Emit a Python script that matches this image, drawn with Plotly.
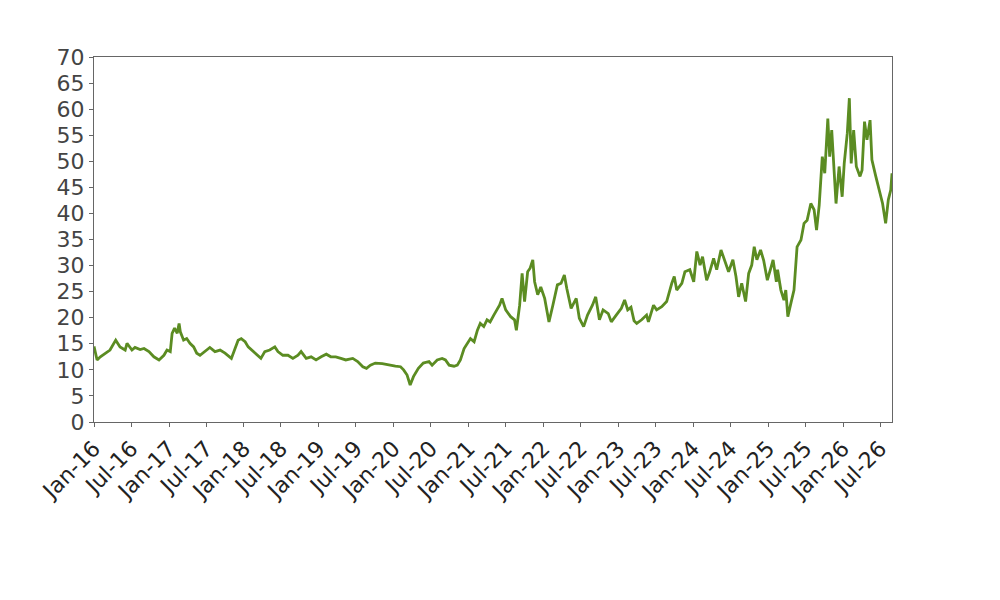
import plotly.graph_objects as go

dates = [
    "2016-01-01","2016-01-16","2016-02-01","2016-02-25","2016-03-19","2016-04-16","2016-05-07","2016-06-01",
    "2016-06-10","2016-07-04","2016-07-19","2016-08-13","2016-09-01","2016-09-25","2016-10-19","2016-11-13",
    "2016-12-07","2016-12-22","2017-01-07","2017-01-16","2017-01-28","2017-02-10","2017-02-19","2017-02-25",
    "2017-03-13","2017-03-28","2017-04-13","2017-05-01","2017-05-16","2017-06-01","2017-06-25","2017-07-19",
    "2017-08-13","2017-09-07","2017-10-01","2017-10-16","2017-11-01","2017-11-19","2017-12-04","2017-12-19",
    "2018-01-07","2018-01-22","2018-02-15","2018-03-10","2018-03-25","2018-04-13","2018-05-07","2018-06-01",
    "2018-06-16","2018-07-10","2018-08-04","2018-08-28","2018-09-22","2018-10-07","2018-11-01","2018-11-25",
    "2018-12-19","2019-01-13","2019-02-07","2019-03-01","2019-03-25","2019-04-19","2019-05-13","2019-06-16",
    "2019-07-10","2019-08-04","2019-08-22","2019-09-10","2019-10-04","2019-11-07","2019-12-07","2020-01-10",
    "2020-02-04","2020-02-19","2020-03-07","2020-03-22","2020-04-07","2020-05-01","2020-05-25","2020-06-22",
    "2020-07-07","2020-08-01","2020-08-25","2020-09-10","2020-09-28","2020-10-22","2020-11-07","2020-11-22",
    "2020-12-10","2020-12-25","2021-01-10","2021-01-28","2021-02-13","2021-02-27","2021-03-16","2021-04-01",
    "2021-04-16","2021-05-04","2021-05-19","2021-06-01","2021-06-13","2021-07-01","2021-07-25","2021-08-13",
    "2021-08-22","2021-09-07","2021-09-19","2021-10-01","2021-10-16","2021-10-28","2021-11-10","2021-11-19",
    "2021-12-04","2021-12-19","2022-01-07","2022-01-28","2022-02-16","2022-03-10","2022-03-28","2022-04-13",
    "2022-04-25","2022-05-16","2022-06-10","2022-06-25","2022-07-16","2022-08-04","2022-08-28","2022-09-13",
    "2022-10-01","2022-10-19","2022-11-13","2022-11-28","2022-12-22","2023-01-16","2023-02-01","2023-02-16",
    "2023-03-04","2023-03-19","2023-04-01","2023-04-25","2023-05-19","2023-05-28","2023-06-22","2023-07-07",
    "2023-08-01","2023-08-25","2023-09-19","2023-10-01","2023-10-13","2023-11-07","2023-11-22","2023-12-16",
    "2024-01-04","2024-01-19","2024-02-04","2024-02-16","2024-03-07","2024-03-22","2024-04-10","2024-04-25",
    "2024-05-16","2024-06-04","2024-06-22","2024-07-13","2024-07-28","2024-08-10","2024-08-25","2024-09-13",
    "2024-09-28","2024-10-13","2024-10-25","2024-11-07","2024-11-25","2024-12-10","2024-12-28","2025-01-16",
    "2025-01-25","2025-02-10","2025-02-16","2025-03-04","2025-03-19","2025-03-28","2025-04-07","2025-04-22",
    "2025-05-07","2025-05-22","2025-06-10","2025-06-25","2025-07-10","2025-07-28","2025-08-13","2025-08-25",
    "2025-09-07","2025-09-22","2025-10-04","2025-10-19","2025-10-28","2025-11-07","2025-11-19","2025-11-28",
    "2025-12-13","2025-12-28","2026-01-07","2026-01-22","2026-02-01","2026-02-10","2026-02-22","2026-03-07",
    "2026-03-25","2026-04-04","2026-04-16","2026-04-28","2026-05-13","2026-05-22","2026-06-10","2026-06-25",
    "2026-07-13","2026-07-28","2026-08-10","2026-08-22","2026-08-28",
]

values = [
    14.5, 11.9, 12.5, 13.2, 13.8, 15.7, 14.4, 13.8,
    15.1, 13.8, 14.3, 13.9, 14.1, 13.5, 12.5, 11.9,
    12.8, 13.8, 13.5, 17.0, 18.0, 17.0, 18.9, 17.3,
    15.7, 16.0, 15.1, 14.4, 13.2, 12.8, 13.5, 14.3,
    13.5, 13.8, 13.2, 12.8, 12.2, 14.1, 15.7, 16.0,
    15.4, 14.4, 13.5, 12.8, 12.2, 13.5, 13.8, 14.4,
    13.5, 12.8, 12.8, 12.2, 12.8, 13.5, 12.2, 12.5,
    11.9, 12.5, 13.0, 12.5, 12.5, 12.2, 11.9, 12.2,
    11.6, 10.6, 10.3, 10.9, 11.3, 11.2, 10.9, 10.7,
    10.6, 10.0, 9.0, 7.1, 8.7, 10.3, 11.3, 11.6,
    10.9, 11.9, 12.2, 11.9, 10.9, 10.7, 10.9, 11.9,
    14.1, 15.1, 16.0, 15.4, 17.6, 18.9, 18.3, 19.6,
    19.2, 20.5, 21.5, 22.4, 23.7, 21.5, 20.2, 19.6,
    17.6, 22.4, 28.5, 23.1, 28.8, 29.5, 31.1, 26.9,
    24.4, 25.9, 23.7, 19.2, 22.4, 26.3, 26.6, 28.2,
    25.6, 21.8, 23.7, 19.9, 18.3, 20.5, 22.4, 24.0,
    19.6, 21.5, 20.8, 19.2, 20.5, 21.8, 23.4, 21.5,
    22.0, 19.4, 18.9, 19.6, 20.5, 19.2, 22.4, 21.5,
    22.1, 23.1, 26.6, 27.9, 25.3, 26.6, 28.8, 29.2,
    26.9, 32.7, 30.1, 31.7, 27.2, 28.8, 31.4, 29.2,
    33.0, 30.7, 28.8, 31.1, 27.9, 24.0, 26.6, 23.1,
    28.5, 30.1, 33.6, 31.1, 33.0, 31.0, 27.2, 29.8,
    31.1, 26.9, 29.2, 25.3, 23.4, 25.3, 20.2, 22.8,
    25.3, 33.6, 34.9, 38.1, 38.7, 41.9, 40.7, 36.8,
    41.6, 50.9, 47.7, 58.2, 50.9, 56.0, 46.4, 41.9,
    49.0, 43.2, 49.6, 55.4, 62.1, 49.6, 56.0, 49.0,
    47.1, 48.3, 57.6, 54.1, 57.9, 50.3, 47.1, 44.5,
    41.9, 38.1, 42.6, 44.5, 47.7,
]

y_ticks = list(range(0, 75, 5))

fig = go.Figure()
fig.add_trace(go.Scatter(
    x=dates, y=values, mode="lines",
    line=dict(color="#5b8c22", width=2.8),
    showlegend=False,
))

y_font = dict(family="DejaVu Sans", size=22, color="#444444")
x_font = dict(family="DejaVu Sans", size=22, color="#222222")

fig.update_layout(
    width=1000, height=600,
    margin=dict(l=86, r=116, t=49, b=186),
    paper_bgcolor="white", plot_bgcolor="white",
    font=y_font,
    xaxis=dict(
        type="date",
        range=["2016-01-01", "2026-08-28"],
        tick0="2016-01-01", dtick="M6",
        tickformat="%b-%y", tickangle=-45,
        showgrid=False, zeroline=False,
        showline=True, linecolor="#666666", linewidth=1, mirror=True,
        ticks="outside", ticklen=4, tickcolor="#666666",
        tickfont=x_font,
    ),
    yaxis=dict(
        range=[0, 70], tickvals=y_ticks,
        showgrid=False, zeroline=False,
        showline=True, linecolor="#666666", linewidth=1, mirror=True,
        ticks="outside", ticklen=4, tickcolor="#666666",
        tickfont=y_font,
    ),
)

fig.write_html("out.html")
